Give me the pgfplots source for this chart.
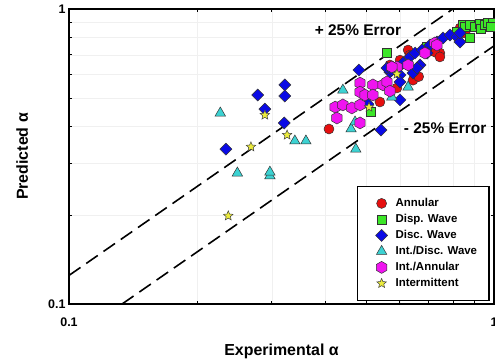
\documentclass[border=0pt]{standalone}
\usepackage{pgfplots}
\pgfplotsset{compat=1.18}
\usepackage{fontspec}
\setmainfont{Liberation Sans}
\usetikzlibrary{plotmarks}

\definecolor{cRed}{RGB}{230,15,15}
\definecolor{cGreen}{RGB}{60,230,40}
\definecolor{cBlue}{RGB}{10,10,230}
\definecolor{cCyan}{RGB}{60,210,210}
\definecolor{cMag}{RGB}{240,20,240}
\definecolor{cYel}{RGB}{235,235,60}

\pgfdeclareplotmark{hexagon*}{%
  \pgfpathmoveto{\pgfqpointpolar{90}{\pgfplotmarksize}}%
  \pgfpathlineto{\pgfqpointpolar{150}{\pgfplotmarksize}}%
  \pgfpathlineto{\pgfqpointpolar{210}{\pgfplotmarksize}}%
  \pgfpathlineto{\pgfqpointpolar{270}{\pgfplotmarksize}}%
  \pgfpathlineto{\pgfqpointpolar{330}{\pgfplotmarksize}}%
  \pgfpathlineto{\pgfqpointpolar{30}{\pgfplotmarksize}}%
  \pgfpathclose\pgfusepathqfillstroke}
\pgfdeclareplotmark{rdiamond*}{%
  \pgfpathmoveto{\pgfqpoint{0pt}{\pgfplotmarksize}}%
  \pgfpathlineto{\pgfqpoint{\pgfplotmarksize}{0pt}}%
  \pgfpathlineto{\pgfqpoint{0pt}{-\pgfplotmarksize}}%
  \pgfpathlineto{\pgfqpoint{-\pgfplotmarksize}{0pt}}%
  \pgfpathclose\pgfusepathqfillstroke}
\pgfdeclareplotmark{fstar*}{%
  \pgfpathmoveto{\pgfqpointpolar{90}{\pgfplotmarksize}}%
  \pgfpathlineto{\pgfqpointpolar{126}{0.45\pgfplotmarksize}}%
  \pgfpathlineto{\pgfqpointpolar{162}{\pgfplotmarksize}}%
  \pgfpathlineto{\pgfqpointpolar{198}{0.45\pgfplotmarksize}}%
  \pgfpathlineto{\pgfqpointpolar{234}{\pgfplotmarksize}}%
  \pgfpathlineto{\pgfqpointpolar{270}{0.45\pgfplotmarksize}}%
  \pgfpathlineto{\pgfqpointpolar{306}{\pgfplotmarksize}}%
  \pgfpathlineto{\pgfqpointpolar{342}{0.45\pgfplotmarksize}}%
  \pgfpathlineto{\pgfqpointpolar{18}{\pgfplotmarksize}}%
  \pgfpathlineto{\pgfqpointpolar{54}{0.45\pgfplotmarksize}}%
  \pgfpathclose\pgfusepathqfillstroke}

\pgfplotsset{mylegend/.style={legend image code/.code={%
  \path[draw=none] (0bp,0bp) -- (26bp,0bp);
  \path[##1, draw=none] plot coordinates {(14bp,0bp)};}}}

\begin{document}
\begin{tikzpicture}
\begin{axis}[
  xmode=log, ymode=log,
  scale only axis, width=425bp, height=295bp,
  xmin=0.1, xmax=1, ymin=0.1, ymax=1,
  xtick={0.1,1}, xticklabels={0.1,1},
  ytick={0.1,1}, yticklabels={0.1,1},
  minor xtick={0.2,0.3,0.4,0.5,0.6,0.7,0.8,0.9},
  minor ytick={0.2,0.3,0.4,0.5,0.6,0.7,0.8,0.9},
  grid=both,
  major grid style={draw=none},
  minor grid style={gray!12, line width=0.4bp},
  axis line style={line width=1.3bp},
  tick style={black, line width=0.6bp},
  major tick length=5bp, minor tick length=3bp,
  tick align=inside,
  tick label style={font=\fontsize{12.5}{14}\selectfont\bfseries},
  xticklabel style={yshift=-10bp},
  xlabel={Experimental α}, ylabel={Predicted α},
  label style={font=\fontsize{16}{18}\selectfont\bfseries},
  xlabel style={at={(axis description cs:0.5,-0.176)}, anchor=base},
  ylabel style={at={(axis description cs:-0.0965,0.5)}, anchor=base, rotate=0},
  legend style={at={(rel axis cs:0.99,0.01)}, anchor=south east,
    draw=black, line width=1.3bp,
    font=\fontsize{11.5}{13}\selectfont\bfseries,
    inner xsep=10bp, inner ysep=10bp, row sep=2bp,
    nodes={inner ysep=1bp, text height=9bp, text depth=3bp}},
  legend cell align=left,
]
\addplot[black, line width=1.6bp, dash pattern=on 14bp off 7bp, forget plot] coordinates {(0.1,0.125) (0.8,1)};
\addplot[black, line width=1.6bp, dash pattern=on 14bp off 7bp, forget plot] coordinates {(0.13333,0.1) (1,0.75)};

\addplot[only marks, mylegend, mark=*, mark size=5bp, mark options={fill=cRed, draw=black!80, line width=0.5bp}] coordinates {
(0.409,0.392) (0.539,0.484) (0.591,0.540) (0.601,0.671) (0.645,0.574) (0.665,0.590)
(0.628,0.726) (0.634,0.698) (0.746,0.709) (0.726,0.715) (0.746,0.688) (0.832,0.862)
(0.855,0.829) (0.846,0.869) (0.569,0.646)};
\addlegendentry{Annular}

\addplot[only marks, mylegend, mark=square*, mark size=4.5bp, mark options={fill=cGreen, draw=black!80, line width=0.5bp}] coordinates {
(0.514,0.448) (0.560,0.709) (0.696,0.743) (0.818,0.836) (0.846,0.883) (0.855,0.869)
(0.878,0.883) (0.878,0.798) (0.902,0.869) (0.927,0.890) (0.930,0.860) (0.952,0.883)
(0.968,0.897) (0.995,0.897) (0.980,0.870)};
\addlegendentry{Disp. Wave}

\addplot[only marks, mylegend, mark=rdiamond*, mark size=6bp, mark options={fill=cBlue, draw=black!80, line width=0.5bp}] coordinates {
(0.278,0.511) (0.322,0.553) (0.322,0.507) (0.289,0.458) (0.321,0.411) (0.234,0.335)
(0.481,0.621) (0.542,0.389) (0.505,0.476) (0.601,0.492)
(0.569,0.611) (0.560,0.631) (0.575,0.621) (0.594,0.631) (0.611,0.656) (0.634,0.688)
(0.652,0.709) (0.677,0.726) (0.707,0.755) (0.734,0.773) (0.759,0.798) (0.788,0.816)
(0.818,0.804) (0.832,0.773) (0.832,0.829) (0.670,0.646) (0.645,0.607) (0.601,0.598)
(0.659,0.631) (0.696,0.709) (0.726,0.767) (0.601,0.566)};
\addlegendentry{Disc. Wave}

\addplot[only marks, mylegend, mark=triangle*, mark size=6bp, mark options={fill=cCyan, draw=black!80, line width=0.5bp}] coordinates {
(0.227,0.444) (0.249,0.278) (0.297,0.272) (0.297,0.280) (0.340,0.357) (0.361,0.357)
(0.441,0.531) (0.461,0.392) (0.473,0.335) (0.471,0.414) (0.575,0.503) (0.628,0.544)};
\addlegendentry{Int./Disc. Wave}

\addplot[only marks, mylegend, mark=hexagon*, mark size=6bp, mark options={fill=cMag, draw=black!80, line width=0.5bp}] coordinates {
(0.484,0.561) (0.484,0.523) (0.497,0.511) (0.519,0.553) (0.548,0.553) (0.560,0.566)
(0.519,0.511) (0.569,0.527) (0.423,0.465) (0.441,0.473) (0.463,0.462) (0.484,0.473)
(0.427,0.427) (0.484,0.411) (0.591,0.636) (0.628,0.646) (0.575,0.636) (0.688,0.709)
(0.726,0.767) (0.734,0.755)};
\addlegendentry{Int./Annular}

\addplot[only marks, mylegend, mark=fstar*, mark size=5bp, mark options={fill=cYel, draw=black!75, line width=0.5bp}] coordinates {
(0.289,0.437) (0.326,0.374) (0.268,0.341) (0.237,0.199) (0.508,0.465) (0.591,0.602)};
\addlegendentry{Intermittent}

\node[font=\fontsize{15.5}{17}\selectfont\bfseries] at (rel axis cs:0.68,0.929) {+ 25\% Error};
\node[font=\fontsize{15.5}{17}\selectfont\bfseries] at (rel axis cs:0.885,0.597) {- 25\% Error};
\end{axis}
\pgfresetboundingbox
\useasboundingbox (-69bp,-60bp) rectangle (426bp,304bp);
\end{tikzpicture}
\end{document}
